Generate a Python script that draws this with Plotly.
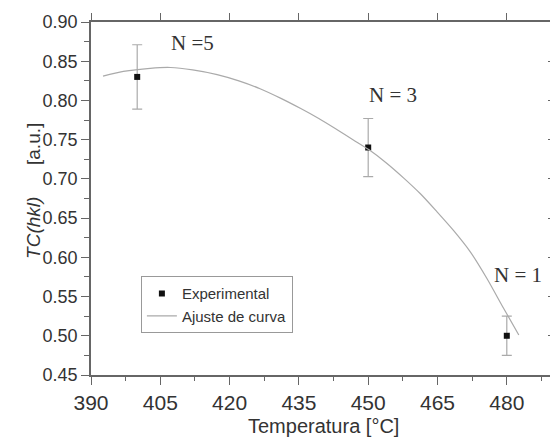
import plotly.graph_objects as go

# Experimental data
temp_exp = [400, 450, 480]
tc_exp = [0.830, 0.740, 0.500]
tc_err = [0.041, 0.037, 0.025]
n_labels = ["N =5", "N = 3", "N = 1"]
n_label_x = [411.9, 455.3, 482.5]
n_label_y = [0.873, 0.807, 0.577]

# Fitted curve
temp_fit = [392.6, 397.0, 402.8, 407.2, 412.0, 417.3, 422.0, 426.6, 431.0, 435.3, 439.3, 443.2, 446.7, 450.2, 454.0, 457.7, 461.3, 464.9, 468.5, 472.1, 475.7, 479.3, 482.6]
tc_fit = [0.831, 0.837, 0.841, 0.842, 0.839, 0.833, 0.825, 0.815, 0.803, 0.790, 0.777, 0.763, 0.750, 0.737, 0.720, 0.701, 0.681, 0.658, 0.634, 0.607, 0.573, 0.535, 0.501]

axis_col = "#666666"
text_col = "#333333"
sans = "Liberation Sans, Arial, sans-serif"
serif = "Liberation Serif, Times New Roman, serif"

fig = go.Figure()

fig.add_trace(go.Scatter(
    x=temp_exp, y=tc_exp, mode="markers", name="Experimental",
    marker=dict(symbol="square", size=6, color="#111111"),
    error_y=dict(type="data", array=tc_err, color="#aaaaaa", thickness=1.2, width=5),
))
fig.add_trace(go.Scatter(
    x=temp_fit, y=tc_fit, mode="lines", name="Ajuste de curva",
    line=dict(color="#aaaaaa", width=1.2, shape="spline", smoothing=0.8),
))
# empty trace to activate mirror axes
fig.add_trace(go.Scatter(x=[], y=[], xaxis="x2", yaxis="y2", showlegend=False, hoverinfo="skip"))

for t, xx, yy in zip(n_labels, n_label_x, n_label_y):
    fig.add_annotation(x=xx, y=yy, text=t, showarrow=False,
                       font=dict(family=serif, size=21, color=text_col))

fig.add_annotation(xref="paper", yref="paper", x=-0.150, y=0.522,
                   text="<i>TC(hkl)</i>&nbsp;&nbsp;&nbsp;&nbsp;&nbsp;&nbsp;[a.u.]", textangle=-90,
                   showarrow=False, font=dict(family=sans, size=19, color=text_col))

fig.add_annotation(xref="paper", yref="paper", x=0.504, y=-0.144, yanchor="middle",
                   text="Temperatura [°C]", showarrow=False,
                   font=dict(family=sans, size=20, color=text_col))

fig.update_layout(
    width=550, height=434,
    margin=dict(l=83, r=5, t=14, b=67, autoexpand=False),
    paper_bgcolor="white", plot_bgcolor="white",
    font=dict(family=sans, color=text_col),
    showlegend=True,
    legend=dict(x=0.108, y=0.28, xanchor="left", yanchor="top",
                bgcolor="rgba(0,0,0,0)", bordercolor="#999999", borderwidth=1,
                font=dict(family=sans, size=15, color=text_col), tracegroupgap=2),
    xaxis=dict(range=[390, 490], tickmode="array", tickvals=[390, 405, 420, 435, 450, 465, 480],
               automargin=False,
               showline=True, linecolor=axis_col, linewidth=1.5, showgrid=False, zeroline=False,
               ticks="outside", ticklen=8, tickcolor=axis_col, tickwidth=1.2,
               tickfont=dict(family=sans, size=21, color=text_col),
               minor=dict(tickvals=[397.5, 412.5, 427.5, 442.5, 457.5, 472.5, 487.5],
                          ticks="outside", ticklen=4, tickcolor=axis_col, tickwidth=1.2)),
    yaxis=dict(range=[0.45, 0.90], tickmode="array",
               tickvals=[0.45, 0.50, 0.55, 0.60, 0.65, 0.70, 0.75, 0.80, 0.85, 0.90],
               ticktext=["0.45", "0.50", "0.55", "0.60", "0.65", "0.70", "0.75", "0.80", "0.85", "0.90"],
               automargin=False,
               showline=True, linecolor=axis_col, linewidth=1.5, showgrid=False, zeroline=False,
               ticks="outside", ticklen=8, tickcolor=axis_col, tickwidth=1.2,
               tickfont=dict(family=sans, size=18, color=text_col),
               minor=dict(tickvals=[0.475, 0.525, 0.575, 0.625, 0.675, 0.725, 0.775, 0.825, 0.875],
                          ticks="outside", ticklen=5, tickcolor=axis_col, tickwidth=1.2)),
    xaxis2=dict(range=[390, 490], overlaying="x", side="top", anchor="y2", automargin=False,
                tickmode="array", tickvals=[390, 405, 420, 435, 450, 465, 480],
                showticklabels=False, showline=True, linecolor=axis_col, linewidth=1.5,
                showgrid=False, zeroline=False, ticks="outside", ticklen=7, tickcolor=axis_col, tickwidth=1.2),
    yaxis2=dict(range=[0.45, 0.90], overlaying="y", side="right", anchor="x2", automargin=False,
                tickmode="array", tickvals=[0.45, 0.50, 0.55, 0.60, 0.65, 0.70, 0.75, 0.80, 0.85, 0.90],
                showticklabels=False, showline=True, linecolor=axis_col, linewidth=1.5,
                showgrid=False, zeroline=False, ticks="inside", ticklen=5, tickcolor=axis_col, tickwidth=1.2),
)

fig.write_html("out.html")
